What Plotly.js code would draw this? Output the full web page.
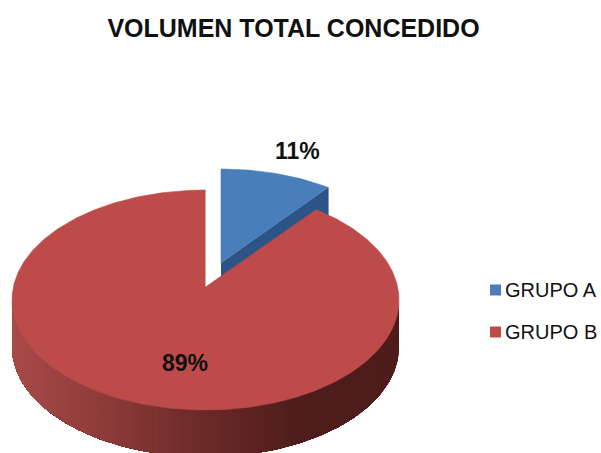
<!DOCTYPE html>
<html><head><meta charset="utf-8">
<script src="https://cdn.plot.ly/plotly-3.0.1.min.js"></script>
<style>html,body{margin:0;padding:0;background:#fff}#c{width:601px;height:453px}</style>
</head><body><div id="c"></div>
<script>
const categories = ["GRUPO A", "GRUPO B"];
const shares = [11, 89];
const topColors = ["#4A7EBB", "#BC4B49"];
const wedgeSideColor = "#2C5486";
const rimStops = [[12, [168,74,72]], [100, [142,60,58]], [200, [108,42,40]], [300, [78,28,27]], [399, [78,28,27]]];

const W = 601, H = 453;
const rx = 193.5, ry = 110, depth = 47;
const foreshortenA = 0.85, foreshortenB = 0.88;
const centerB = [205.5, 300], apexLiftB = 13;
const centerA = [221, 279], apexLiftA = 16;
const keyX = 495.5, keyY = [290, 332];

const rad = d => d * Math.PI / 180;
const sweep = f => shares[0] / 100 * 360 * f;
const pt = (c, deg, dy = 0) => [c[0] + rx * Math.sin(rad(deg)), c[1] - ry * Math.cos(rad(deg)) + dy];

function arc(c, from, to, dy = 0) {
  const out = [];
  const n = Math.ceil(Math.abs(to - from));
  for (let i = 0; i <= n; i++) out.push(pt(c, from + (to - from) * i / n, dy));
  return out;
}
function poly(points, color, width) {
  return {
    x: points.map(p => p[0]), y: points.map(p => p[1]),
    type: "scatter", mode: "lines", fill: "toself", fillcolor: color,
    line: {color: color, width: width === undefined ? 0.6 : width}, hoverinfo: "skip", showlegend: false
  };
}
function rimColor(x) {
  for (let i = 0; i < rimStops.length - 1; i++) {
    const [x0, c0] = rimStops[i], [x1, c1] = rimStops[i + 1];
    if (x <= x1) {
      const f = Math.max(0, (x - x0) / (x1 - x0));
      return "rgb(" + c0.map((v, k) => Math.round(v + (c1[k] - v) * f)).join(",") + ")";
    }
  }
  return "rgb(78,28,27)";
}

const traces = [];
// slice A: inner wall, then top
const apexA = [centerA[0], centerA[1] - apexLiftA];
const endA = pt(centerA, sweep(foreshortenA));
traces.push(poly([apexA, endA, [endA[0], endA[1] + depth], [apexA[0], apexA[1] + depth]], wedgeSideColor));
traces.push(poly([apexA].concat(arc(centerA, 0, sweep(foreshortenA))), topColors[0]));
// slice B: rim painted as overlapping bands from the right to the left, then top
for (let t = 90; t < 270; t += 2) {
  const a = arc(centerB, t, 270), b = arc(centerB, 270, t, depth);
  traces.push(poly(a.concat(b), rimColor(pt(centerB, t + 1)[0]), 0));
}
const apexB = [centerB[0], centerB[1] - apexLiftB];
traces.push(poly([apexB].concat(arc(centerB, sweep(foreshortenB), 360)), topColors[1]));
// key: square swatches, with their labels set beside them
traces.push({
  x: categories.map(() => keyX), y: keyY, type: "scatter", mode: "markers",
  marker: {symbol: "square", size: 11, color: topColors}, hoverinfo: "skip", showlegend: false
});

const layout = {
  width: W, height: H, margin: {l: 0, r: 0, t: 0, b: 0, autoexpand: false},
  paper_bgcolor: "#fff", plot_bgcolor: "#fff", showlegend: false,
  font: {family: "Liberation Sans, Arial, sans-serif", color: "#111"},
  title: {text: "<b>VOLUMEN TOTAL CONCEDIDO</b>", font: {size: 25, color: "#111"},
          x: 293.5 / W, xanchor: "center", y: 1 - 28 / H, yanchor: "middle", automargin: false},
  xaxis: {range: [0, W], visible: false, fixedrange: true},
  yaxis: {range: [H, 0], visible: false, fixedrange: true},
  annotations: [
    {text: "<b>" + shares[0] + "%</b>", x: 297, y: 151, showarrow: false, font: {size: 23, color: "#111"}},
    {text: "<b>" + shares[1] + "%</b>", x: 185, y: 363, showarrow: false, font: {size: 23, color: "#111"}}
  ].concat(categories.map((name, i) => ({
    text: name, x: 505, y: keyY[i], xanchor: "left", xshift: -2, showarrow: false, font: {size: 20, color: "#111"}
  })))
};
Plotly.newPlot("c", traces, layout, {displayModeBar: false, staticPlot: true});
</script></body></html>
